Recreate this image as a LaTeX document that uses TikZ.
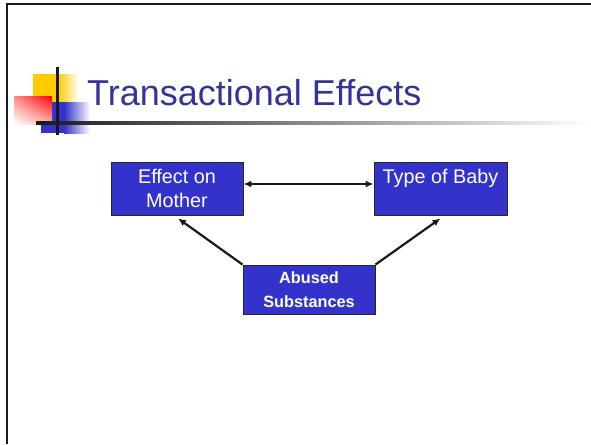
\documentclass[tikz,border=0pt]{standalone}
\usepackage{fontspec}
\setmainfont{Liberation Sans}
\definecolor{mytitleblue}{RGB}{51,51,153}
\definecolor{myboxblue}{RGB}{51,51,204}
\definecolor{myyellow}{RGB}{255,204,0}
\definecolor{myred}{RGB}{255,0,0}
\usetikzlibrary{calc,arrows,arrows.meta,positioning,shadings}

\begin{document}
\begin{tikzpicture}[
  x=1pt, y=-1pt,
  >={Latex[length=8pt,width=7pt]},
  mybox/.style={
    draw=black!85,
    line width=0.8pt,
    fill=myboxblue,
    text=white,
    align=center,
    inner sep=0pt,
    minimum width=#1,
    font=\fontsize{19.8}{24}\selectfont
    },
  myarrow/.style={
    line width=2.2pt,
    black!90
    }
]
\useasboundingbox (0,0) rectangle (591,444);

% slide frame
\draw[line width=2pt, black!90] (7,444) -- (7,4) -- (591,4);

% title decoration
\fill[myyellow] (33,74) rectangle (58,102);
\shade[left color=myyellow, right color=white] (58,74) rectangle (79,102);
\fill[myboxblue] (41,102) rectangle (64,133);
\shade[left color=myboxblue, right color=white] (64,102) rectangle (90,133);
\shade[upper left=myred!45, upper right=myred, lower left=white, lower right=myred!30]
  (14,96) rectangle (52,124);
\shade[left color=black!90, right color=white] (36,121.5) rectangle (591,124.5);
\fill[black!90] (55.5,67) rectangle (58.5,135);

\node[anchor=base west, text=mytitleblue, inner sep=0pt,
  font=\fontsize{36}{40}\selectfont] (title) at (87,105) {Transactional Effects};

% boxes
\node[mybox=132pt, minimum height=53pt] (mother) at (177,188.5)
  {Effect on\\Mother};
\node[mybox=133pt, minimum height=53pt] (baby) at (440.5,188.5)
  {Type of Baby\\\mbox{}};
\node[mybox=132pt, minimum height=49pt,
  font=\bfseries\fontsize{16.3}{24}\selectfont] (abused) at (309,289.5)
  {Abused\\Substances};

% arrows
\draw[myarrow, <->] ([yshift=4.5pt]mother.east) -- ([yshift=4.5pt]baby.west);
\draw[myarrow, ->] (abused.north west) -- ([xshift=1pt, yshift=-3pt]mother.south);
\draw[myarrow, ->] (abused.north east) -- ([yshift=-3pt]baby.south);
\end{tikzpicture}
\end{document}
